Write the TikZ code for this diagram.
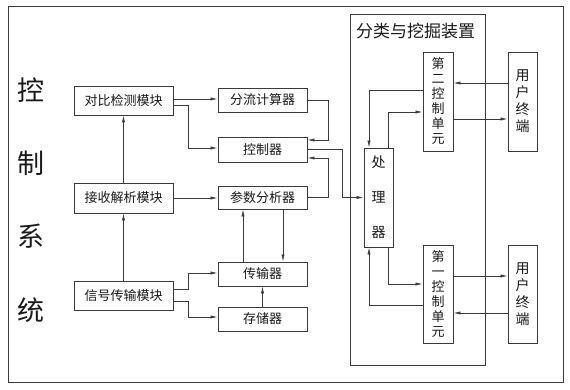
\documentclass[tikz,border=0pt]{standalone}
\usepackage{fontspec}
\setmainfont{Noto Sans CJK SC}
\usetikzlibrary{arrows.meta}
\definecolor{ln}{HTML}{3A3A3A}
\definecolor{tx}{HTML}{1A1A1A}
\begin{document}
\begin{tikzpicture}[x=1pt,y=-1pt,
  box/.style={draw=ln,line width=0.9pt,inner sep=0pt,text=tx,font=\fontsize{13}{15}\selectfont},
  wbox/.style={box,minimum width=99pt},
  nbox/.style={box,minimum width=89pt},
  vbox/.style={box,minimum width=30pt,minimum height=99pt,align=center},
  arr/.style={draw=ln,line width=0.7pt,-{Latex[length=7pt,width=3.2pt]}},
  frame/.style={draw=ln,line width=0.9pt}]
\useasboundingbox (0,0) rectangle (570,390);
\fill[white] (0,0) rectangle (570,390);
\draw[frame] (8,6) rectangle (563,382);
\node[text=tx,align=center,font=\fontsize{27}{73.3}\selectfont] (title) at (31,200) {控\\制\\系\\统};
% left boxes
\node[wbox,minimum height=29pt] (dbjc) at (123.5,100.5) {对比检测模块};
\node[wbox,minimum height=30pt] (jsjx) at (123.5,198) {接收解析模块};
\node[wbox,minimum height=29pt] (xhcs) at (123.5,295.5) {信号传输模块};
\node[nbox,minimum height=24pt] (flj) at (262.5,100) {分流计算器};
\node[nbox,minimum height=25pt] (kzq) at (262.5,149.5) {控制器};
\node[nbox,minimum height=23pt] (csfx) at (262.5,197.5) {参数分析器};
\node[nbox,minimum height=24pt] (csq) at (262.5,274) {传输器};
\node[nbox,minimum height=24pt] (ccq) at (262.5,319) {存储器};
% device
\node[draw=ln,line width=0.9pt,minimum width=135pt,minimum height=351pt,inner sep=0pt] (dev) at (417.5,189.5) {};
\node[text=tx,font=\fontsize{17}{20}\selectfont] (devt) at (415.5,31) {分类与挖掘装置};
\node[vbox] (dekz) at (438,101.5) {第\\二\\控\\制\\单\\元};
\node[vbox,minimum width=29pt,font=\fontsize{14}{35}\selectfont] (clq) at (378.5,197.5) {处\\理\\器};
\node[vbox,minimum height=98pt] (dykz) at (438,294) {第\\一\\控\\制\\单\\元};
\node[vbox,minimum width=29pt,font=\fontsize{14}{17}\selectfont] (yh1) at (522.5,101.5) {用\\户\\终\\端};
\node[vbox,minimum width=29pt,minimum height=98pt,font=\fontsize{14}{17}\selectfont] (yh2) at (522.5,294) {用\\户\\终\\端};
% left connectors
\draw[arr] (jsjx.north) -- (dbjc.south);
\draw[arr] (xhcs.north) -- (jsjx.south);
\draw[arr] (dbjc.east |- 0,99) -- (flj.west |- 0,99);
\draw[arr] (dbjc.east |- 0,105) -- (188,105) |- (kzq.west |- 0,148);
\draw[arr] (flj.east) -- (328,100) |- (kzq.east |- 0,140);
\draw[arr] (csfx.east) -- (328,197.5) |- (kzq.east |- 0,158);
\draw[arr] (kzq.east) -- (342,149.5) |- (clq.west);
\draw[arr] (jsjx.east) -- (jsjx.east -| csfx.west);
\draw[arr] (csq.north -| 243,0) -- (csfx.south -| 243,0);
\draw[arr] (csfx.south -| 283,0) -- (csq.north -| 283,0);
\draw[arr] (ccq.north) -- (csq.south);
\draw[arr] (xhcs.east |- 0,289) -- (188,289) |- (csq.west |- 0,273);
\draw[arr] (xhcs.east |- 0,301) -- (188,301) |- (ccq.west |- 0,317);
% right connectors
\draw[arr] (yh1.west |- 0,83) -- (dekz.east |- 0,83);
\draw[arr] (dekz.east |- 0,119) -- (yh1.west |- 0,119);
\draw[arr] (dekz.west |- 0,90) -| (clq.north -| 369,0);
\draw[arr] (clq.north -| 388,0) |- (dekz.west |- 0,112);
\draw[arr] (clq.south -| 388,0) |- (dykz.west |- 0,284);
\draw[arr] (dykz.west |- 0,305) -| (clq.south -| 369,0);
\draw[arr] (dykz.east |- 0,276) -- (yh2.west |- 0,276);
\draw[arr] (yh2.west |- 0,313) -- (dykz.east |- 0,313);
\end{tikzpicture}
\end{document}
